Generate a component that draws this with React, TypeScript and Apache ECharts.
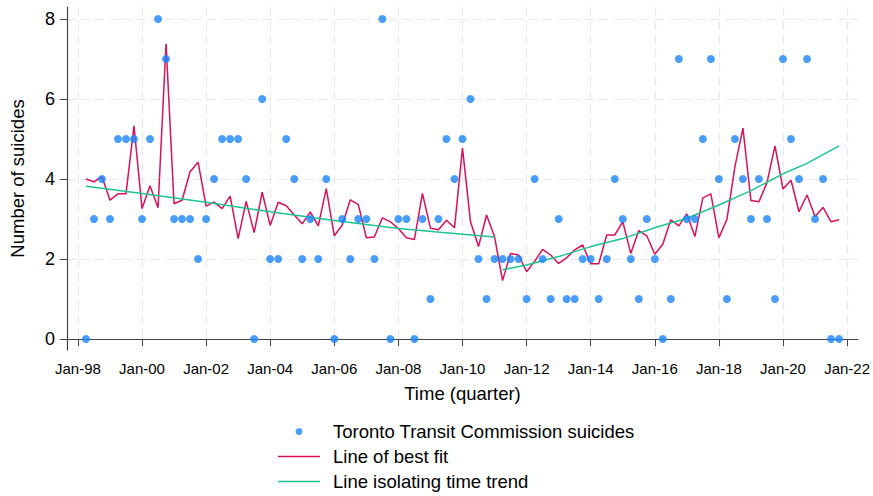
import React, { useEffect, useRef } from "react";
import * as echarts from "echarts";

// Quarter index 0 = Jan-98 (1998 Q1); observations start at index 1 (Apr-98)
const firstQuarterIndex = 1;

const suicides = [
  0, 3, 4, 3, 5, 5, 5, 3, 5, 8, 7, 3, 3, 3, 2, 3, 4, 5, 5, 5, 4, 0, 6, 2, 2,
  5, 4, 2, 3, 2, 4, 0, 3, 2, 3, 3, 2, 8, 0, 3, 3, 0, 3, 1, 3, 5, 4, 5, 6, 2,
  1, 2, 2, 2, 2, 1, 4, 2, 1, 3, 1, 1, 2, 2, 1, 2, 4, 3, 2, 1, 3, 2, 0, 1, 7,
  3, 3, 5, 7, 4, 1, 5, 4, 3, 4, 3, 1, 7, 5, 4, 7, 3, 4, 0, 0,
];

const bestFit = [
  4.0, 3.93, 4.06, 3.47, 3.63, 3.63, 5.33, 3.26, 3.83, 3.28, 7.38, 3.38, 3.47, 4.18, 4.42, 3.32, 3.42, 3.26, 3.57, 2.51, 3.44, 2.66, 3.67, 2.84, 3.42,
  3.33, 3.1, 2.88, 3.18, 2.83, 3.76, 2.58, 2.85, 3.48, 3.36, 2.53, 2.55, 3.03, 2.93, 2.76, 2.53, 2.49, 3.64, 2.77, 2.73, 2.97, 2.78, 4.77, 2.93, 2.31,
  3.1, 2.56, 1.46, 2.14, 2.1, 1.68, 1.94, 2.24, 2.1, 1.89, 2.03, 2.23, 2.35, 1.88, 1.88, 2.6, 2.6, 2.93, 2.14, 2.71, 2.58, 2.12, 2.37, 2.98, 2.83,
  3.13, 2.56, 3.53, 3.63, 2.53, 2.99, 4.31, 5.27, 3.46, 3.43, 3.91, 4.83, 3.75, 3.97, 3.18, 3.6, 3.06, 3.29, 2.93, 2.98,
];

// Time trend read at knots: [quarter index, value]; two segments with a break
const trendBefore: [number, number][] = [
  [1, 3.82], [8, 3.64], [16, 3.42], [24, 3.18], [32, 2.96], [40, 2.76], [48, 2.62], [52, 2.55],
];
const trendAfter: [number, number][] = [
  [53, 1.73], [56, 1.85], [60, 2.06], [64, 2.31], [68, 2.51], [72, 2.78], [76, 3.02],
  [80, 3.35], [84, 3.71], [88, 4.13], [91, 4.39], [95, 4.83],
];

const tickYears = [1998, 2000, 2002, 2004, 2006, 2008, 2010, 2012, 2014, 2016, 2018, 2020, 2022];
const tickLabels = ["Jan-98", "Jan-00", "Jan-02", "Jan-04", "Jan-06", "Jan-08", "Jan-10", "Jan-12", "Jan-14", "Jan-16", "Jan-18", "Jan-20", "Jan-22"];
const yTicks = [0, 2, 4, 6, 8];

const qToYear = (q: number) => 1998 + q / 4;

const FONT = "Liberation Sans, Arial, Helvetica, sans-serif";
const BLUE = "#1a85ff";
const RED = "#d41159";
const GREEN = "#1cc58c";
const LINE_ICON = "path://M0,0L42,0L42,1.5L0,1.5Z";

export default function App() {
  const ref = useRef<HTMLDivElement>(null);
  useEffect(() => {
    if (!ref.current) return;
    const chart = echarts.init(ref.current, null, { renderer: "svg" });
    const grid = { color: "#e9e9e9", width: 1.2, type: [9, 5] as any };
    chart.setOption({
      animation: false,
      textStyle: { fontFamily: FONT },
      grid: { left: 65, right: 10, top: 7, bottom: 146 },
      legend: {
        orient: "vertical",
        left: 278,
        top: 421,
        padding: 0,
        itemWidth: 42,
        itemHeight: 7,
        itemGap: 4,
        textStyle: { fontSize: 18.5, color: "#000", fontFamily: FONT, lineHeight: 21, padding: [0, 0, 0, 8] },
        data: [
          { name: "Toronto Transit Commission suicides", icon: "circle" },
          { name: "Line of best fit", icon: LINE_ICON },
          { name: "Line isolating time trend", icon: LINE_ICON },
        ],
      },
      xAxis: {
        type: "value",
        min: 1997.66,
        max: 2022.34,
        name: "Time (quarter)",
        nameLocation: "middle",
        nameGap: 34,
        nameTextStyle: { fontSize: 18.5, color: "#000", fontFamily: FONT },
        axisLine: { lineStyle: { color: "#444", width: 1.2 } },
        axisTick: { customValues: tickYears, length: 7, lineStyle: { color: "#444" } },
        axisLabel: {
          customValues: tickYears,
          fontSize: 15,
          color: "#000",
          margin: 11,
          formatter: (v: number) => tickLabels[tickYears.indexOf(Math.round(v))] ?? "",
        },
        splitLine: { show: true, lineStyle: grid },
      },
      yAxis: {
        type: "value",
        min: -0.275,
        max: 8.3,
        name: "Number of suicides",
        nameLocation: "middle",
        nameGap: 40,
        nameTextStyle: { fontSize: 18.5, color: "#000", fontFamily: FONT },
        axisLine: { show: true, lineStyle: { color: "#444", width: 1.2 } },
        axisTick: { show: true, customValues: yTicks, length: 7, lineStyle: { color: "#444" } },
        axisLabel: { customValues: yTicks, fontSize: 18, color: "#000", margin: 12 },
        splitLine: { show: true, lineStyle: grid },
      },
      series: [
        {
          name: "Toronto Transit Commission suicides",
          type: "scatter",
          symbol: "circle",
          symbolSize: 8,
          itemStyle: { color: BLUE },
          data: suicides.map((v, i) => [qToYear(firstQuarterIndex + i), v]),
          z: 3,
        },
        {
          name: "Line of best fit",
          type: "line",
          symbol: "none",
          lineStyle: { color: RED, width: 1.5 },
          itemStyle: { color: RED },
          data: bestFit.map((v, i) => [qToYear(firstQuarterIndex + i), v]),
          z: 2,
        },
        {
          name: "Line isolating time trend",
          type: "line",
          symbol: "none",
          lineStyle: { color: GREEN, width: 1.5 },
          itemStyle: { color: GREEN },
          data: trendBefore.map(([q, v]) => [qToYear(q), v]),
          z: 2,
        },
        {
          name: "Line isolating time trend",
          type: "line",
          symbol: "none",
          lineStyle: { color: GREEN, width: 1.5 },
          itemStyle: { color: GREEN },
          data: trendAfter.map(([q, v]) => [qToYear(q), v]),
          z: 2,
        },
      ],
    });
    return () => chart.dispose();
  }, []);
  return <div ref={ref} style={{ width: 873, height: 496, position: "absolute", left: 0, top: 0 }} />;
}
